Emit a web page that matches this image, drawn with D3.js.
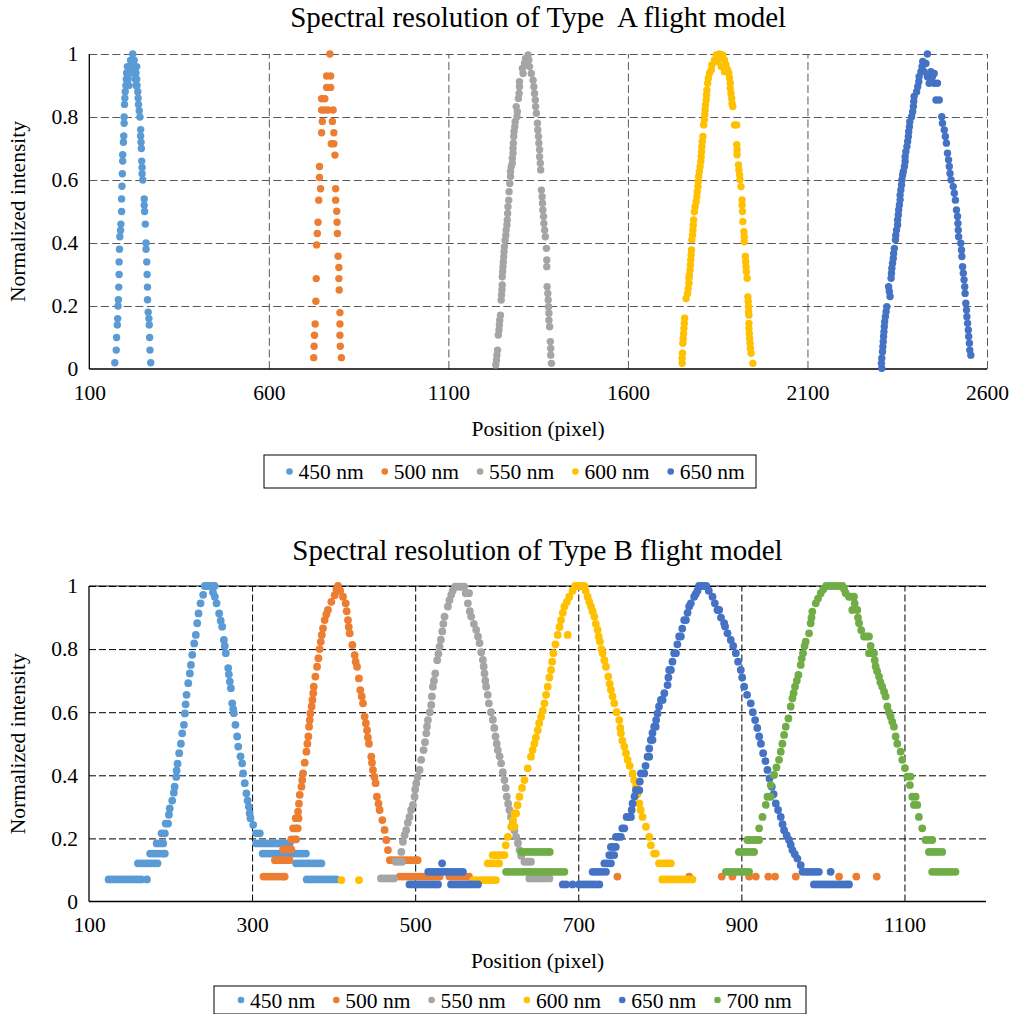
<!DOCTYPE html>
<html>
<head>
<meta charset="utf-8">
<script src="https://cdn.jsdelivr.net/npm/d3@7"></script>
<style>
  body { margin: 0; background: #fff; }
  text { font-family: "Liberation Serif", "Times New Roman", serif; fill: #000; }
</style>
</head>
<body>
<svg id="chart" width="1011" height="1014"></svg>
<script>
// ---------- shared labels ----------
const yTicks = [0, 0.2, 0.4, 0.6, 0.8, 1];
const xTicksA = [100, 600, 1100, 1600, 2100, 2600];
const xTicksB = [100, 300, 500, 700, 900, 1100];
const namesA = ["450 nm", "500 nm", "550 nm", "600 nm", "650 nm"];
const namesB = ["450 nm", "500 nm", "550 nm", "600 nm", "650 nm", "700 nm"];
const colors = ["#5B9BD5", "#ED7D31", "#A5A5A5", "#FFC000", "#4472C4", "#70AD47"];

// ---------- Type A: [position, normalized intensity] ----------
const a450 = [
  [171,0.02],[175,0.06],[176,0.10],[178,0.14],[179,0.16],[180,0.20],[181,0.22],[182,0.26],[183,0.30],[183,0.34],
  [184,0.38],[185,0.42],[187,0.44],[188,0.46],[190,0.50],[190,0.54],[191,0.58],[192,0.62],[193,0.66],[193,0.68],
  [195,0.72],[196,0.74],[197,0.78],[197,0.80],[198,0.84],[199,0.86],[200,0.88],[202,0.90],[203,0.92],[204,0.94],[206,0.96],
  [213,0.96],[222,0.96],[232,0.96],[213,0.94],[222,0.94],[208,0.92],[228,0.92],[210,0.90],[230,0.90],[215,0.98],[225,0.98],[221,1.0],
  [227,0.96],[230,0.94],[232,0.92],[233,0.90],[235,0.88],[236,0.86],[237,0.84],[239,0.82],[241,0.80],[243,0.76],
  [243,0.74],[244,0.72],[245,0.70],[246,0.66],[247,0.64],[247,0.62],[249,0.60],[253,0.54],[253,0.52],[254,0.50],
  [256,0.46],[258,0.40],[258,0.38],[260,0.34],[261,0.30],[262,0.26],[262,0.22],[264,0.18],[266,0.16],[267,0.14],
  [268,0.10],[269,0.06],[271,0.02]
];
const a500 = [
  [725,0.036],[802,0.036],[726,0.072],[799,0.072],[727,0.107],[798,0.107],[729,0.143],[798,0.143],[798,0.179],
  [731,0.215],[796,0.251],[732,0.287],[795,0.287],[795,0.322],[793,0.358],[733,0.394],[735,0.430],[791,0.430],
  [737,0.466],[790,0.466],[789,0.501],[739,0.536],[786,0.536],[744,0.572],[786,0.572],[741,0.608],[741,0.643],
  [784,0.679],[774,0.715],[781,0.715],[747,0.750],[781,0.750],[749,0.786],[777,0.786],[747,0.822],[756,0.822],
  [765,0.822],[779,0.822],[747,0.858],[756,0.858],[761,0.894],[772,0.894],[761,0.930],[772,0.930],[770,1.0]
];
const a550 = [
  [1232,0.013],[1234,0.028],[1235,0.044],[1237,0.060],[1239,0.108],[1241,0.124],[1242,0.140],[1243,0.155],[1245,0.171],
  [1247,0.219],[1248,0.235],[1249,0.251],[1250,0.267],[1250,0.293],[1251,0.309],[1252,0.325],[1253,0.340],[1254,0.356],
  [1255,0.372],[1256,0.388],[1258,0.409],[1260,0.425],[1261,0.441],[1263,0.457],[1264,0.473],[1265,0.494],[1266,0.515],
  [1268,0.536],[1269,0.563],[1271,0.589],[1273,0.611],[1273,0.627],[1275,0.643],[1278,0.653],[1278,0.669],[1280,0.685],
  [1280,0.701],[1281,0.717],[1282,0.738],[1283,0.754],[1285,0.769],[1286,0.785],[1291,0.801],[1292,0.817],[1289,0.833],
  [1295,0.859],[1297,0.875],[1298,0.896],[1298,0.912],[1308,0.938],[1306,0.954],[1312,0.970],[1315,0.986],[1322,0.997],
  [1324,0.981],[1326,0.960],[1331,0.938],[1336,0.917],[1338,0.896],[1340,0.875],[1342,0.854],[1343,0.833],[1345,0.812],
  [1348,0.780],[1349,0.759],[1351,0.738],[1352,0.717],[1354,0.696],[1354,0.674],[1356,0.653],[1357,0.632],
  [1359,0.568],[1361,0.547],[1362,0.526],[1363,0.505],[1365,0.484],[1366,0.462],[1368,0.441],[1370,0.420],
  [1373,0.383],[1374,0.346],[1374,0.325],[1375,0.261],[1377,0.240],[1378,0.219],[1379,0.198],[1380,0.177],[1380,0.155],
  [1382,0.134],[1384,0.087],[1385,0.065],[1385,0.044],[1387,0.018]
];
const a600 = [
  [1751,0.018],[1751,0.034],[1752,0.050],[1753,0.082],[1754,0.097],[1755,0.113],[1756,0.129],[1757,0.145],[1758,0.161],
  [1762,0.224],[1766,0.240],[1768,0.256],[1770,0.272],[1770,0.288],[1771,0.298],[1773,0.314],[1774,0.330],[1775,0.346],
  [1776,0.362],[1777,0.378],[1778,0.410],[1780,0.425],[1781,0.441],[1782,0.457],[1783,0.473],[1785,0.499],[1787,0.515],
  [1790,0.531],[1792,0.547],[1793,0.563],[1795,0.579],[1796,0.595],[1797,0.611],[1799,0.627],[1801,0.643],[1803,0.659],
  [1804,0.674],[1805,0.690],[1806,0.706],[1807,0.722],[1809,0.738],[1811,0.775],[1813,0.791],[1814,0.807],[1815,0.822],
  [1816,0.838],[1818,0.854],[1819,0.870],[1820,0.886],[1822,0.907],[1824,0.923],[1827,0.939],[1832,0.949],[1834,0.965],
  [1841,0.981],[1846,0.997],[1855,1.0],[1864,0.997],[1869,0.981],[1873,0.965],[1878,0.949],[1850,0.992],[1860,0.992],
  [1850,0.976],[1860,0.960],[1869,0.944],
  [1881,0.939],[1883,0.923],[1885,0.907],[1885,0.891],[1887,0.875],[1889,0.859],[1890,0.843],[1892,0.833],
  [1897,0.775],[1903,0.775],[1903,0.712],[1904,0.696],[1904,0.680],[1908,0.648],[1909,0.632],[1911,0.616],[1912,0.601],
  [1915,0.579],[1918,0.537],[1918,0.521],[1919,0.500],[1920,0.468],[1923,0.436],[1924,0.420],[1924,0.404],[1927,0.357],
  [1928,0.341],[1929,0.325],[1930,0.309],[1932,0.288],[1934,0.229],[1935,0.214],[1936,0.198],[1936,0.182],[1937,0.171],
  [1937,0.145],[1937,0.129],[1938,0.113],[1939,0.097],[1940,0.082],[1941,0.066],[1943,0.050],[1948,0.018]
];
const a650 = [
  [2307,0.002],[2306,0.018],[2307,0.034],[2309,0.055],[2310,0.071],[2311,0.087],[2312,0.103],[2313,0.118],[2314,0.134],
  [2315,0.150],[2317,0.166],[2319,0.182],[2321,0.198],[2330,0.230],[2328,0.246],[2326,0.261],[2333,0.288],[2334,0.304],
  [2335,0.320],[2337,0.336],[2339,0.351],[2340,0.367],[2342,0.383],[2345,0.410],[2346,0.425],[2348,0.441],[2351,0.457],
  [2351,0.473],[2353,0.489],[2354,0.505],[2356,0.521],[2358,0.537],[2358,0.552],[2360,0.568],[2362,0.584],[2363,0.600],
  [2365,0.616],[2367,0.627],[2370,0.643],[2372,0.659],[2372,0.674],[2374,0.690],[2377,0.706],[2379,0.722],[2381,0.738],
  [2382,0.754],[2384,0.769],[2385,0.785],[2390,0.801],[2393,0.817],[2395,0.833],[2396,0.849],[2397,0.865],[2404,0.880],
  [2407,0.896],[2410,0.912],[2411,0.928],[2416,0.944],[2419,0.960],[2421,0.976],[2434,1.0],[2430,0.970],[2425,0.944],
  [2444,0.944],[2434,0.928],[2448,0.928],[2439,0.907],[2453,0.907],[2462,0.907],[2453,0.938],
  [2458,0.854],[2467,0.854],[2474,0.801],[2476,0.780],[2481,0.759],[2484,0.738],[2487,0.717],[2490,0.685],[2493,0.664],
  [2495,0.643],[2497,0.621],[2500,0.600],[2506,0.579],[2509,0.558],[2512,0.536],[2515,0.505],[2518,0.484],[2519,0.462],
  [2520,0.441],[2521,0.420],[2527,0.399],[2529,0.378],[2530,0.357],[2532,0.325],[2534,0.304],[2536,0.283],[2538,0.261],
  [2539,0.240],[2541,0.209],[2543,0.187],[2544,0.166],[2546,0.145],[2548,0.124],[2549,0.103],[2551,0.082],[2552,0.060],
  [2555,0.044]
];

// ---------- Type B: [position, normalized intensity] ----------
const b450 = [
  [124,0.070],[128,0.070],[132,0.070],[136,0.070],[140,0.070],[144,0.070],[148,0.070],[152,0.070],[156,0.070],[160,0.070],[164,0.070],[171,0.070],
  [160,0.121],[164,0.121],[168,0.121],[172,0.121],[176,0.121],[180,0.121],[184,0.121],
  [175,0.152],[179,0.152],[183,0.152],[187,0.152],[191,0.152],[193,0.152],
  [183,0.184],[187,0.184],[191,0.184],[189,0.216],[193,0.216],[194,0.247],[197,0.247],[198,0.275],[199,0.295],[202,0.320],
  [204,0.345],[205,0.364],[207,0.395],[207.5,0.415],[208.6,0.437],[210.6,0.470],[212.7,0.500],[214.3,0.533],[216.4,0.560],
  [217.6,0.596],[218.5,0.625],[219.6,0.655],[221.7,0.692],[223.7,0.723],[225,0.750],[226.6,0.782],[229,0.818],[231,0.845],
  [232.7,0.882],[234.3,0.913],[236.8,0.945],[240,0.972],[242,1.0],[245,1.0],[248,1.0],[251,1.0],[254,1.0],
  [252,0.980],[254.3,0.966],[256.4,0.945],[259.6,0.913],[261.5,0.890],[263.3,0.871],[265.4,0.829],[266.5,0.810],
  [267.8,0.787],[270.7,0.740],[271.5,0.720],[272.7,0.697],[274,0.676],[275.6,0.628],[276.8,0.610],[277.6,0.597],
  [279.6,0.560],[281.7,0.523],[283,0.491],[285.8,0.460],[287.8,0.438],[289,0.406],[291,0.375],[293,0.343],[294.5,0.320],
  [296,0.301],[297,0.280],[298,0.264],[301.3,0.243],[305,0.216],[309.4,0.216],
  [305,0.184],[309,0.184],[313,0.184],[317,0.184],[321,0.184],[325,0.184],[329,0.184],[333,0.184],[337,0.184],[341,0.184],[346,0.184],
  [313,0.152],[317,0.152],[321,0.152],[325,0.152],[329,0.152],[333,0.152],[337,0.152],[341,0.152],[345,0.152],[349,0.152],
  [353,0.152],[357,0.152],[361,0.152],[366,0.152],
  [354,0.121],[358,0.121],[362,0.121],[366,0.121],[370,0.121],[374,0.121],[378,0.121],[382,0.121],[385,0.121],
  [367,0.070],[371,0.070],[375,0.070],[379,0.070],[383,0.070],[387,0.070],[391,0.070],[395,0.070],[399,0.070],[403,0.070]
];
const b500 = [
  [314,0.079],[318,0.079],[322,0.079],[326,0.079],[330,0.079],[334,0.079],[338,0.079],[340,0.079],
  [328,0.131],[332,0.131],[336,0.131],[340,0.131],[344,0.131],[346,0.131],
  [338,0.165],[342,0.165],[346,0.165],[348,0.165],[348,0.197],[352,0.197],[354,0.197],
  [350.3,0.232],[354,0.232],[356,0.232],[353.5,0.264],[357,0.264],[356.4,0.285],[357.5,0.310],[358.4,0.338],[360.5,0.364],
  [361.5,0.385],[362.5,0.406],[364.5,0.440],[366.6,0.475],[367.8,0.500],[369,0.523],[369.9,0.554],[370.7,0.575],
  [371.5,0.596],[373,0.618],[374,0.639],[375,0.660],[375.6,0.681],[377.6,0.713],[379.7,0.744],[381.3,0.771],[382.8,0.800],
  [384.2,0.823],[385.5,0.845],[387,0.866],[389,0.892],[391,0.910],[393,0.924],[397.2,0.950],[401.3,0.971],[403.5,0.990],
  [405.4,1.0],[408,0.985],[411.5,0.966],[414.8,0.945],[416,0.920],[417.6,0.892],[418.5,0.870],[419.7,0.850],[423,0.813],
  [425.8,0.781],[427,0.760],[428.7,0.744],[431,0.707],[432.7,0.670],[434.5,0.650],[436,0.628],[438,0.586],[439.5,0.565],
  [441,0.543],[442,0.520],[443.3,0.500],[446.2,0.459],[447,0.440],[448.2,0.417],[450,0.395],[451.5,0.375],[453.1,0.332],
  [455,0.310],[456.4,0.290],[459.7,0.258],[462.5,0.227],[464.6,0.195],[466.6,0.163],
  [469,0.131],[473,0.131],[477,0.131],[481,0.131],[485,0.131],[489,0.131],[493,0.131],[497,0.131],[501,0.131],[503,0.131],
  [481,0.079],[485,0.079],[489,0.079],[493,0.079],[497,0.079],[501,0.079],[505,0.079],[509,0.079],[513,0.079],[517,0.079],
  [521,0.079],[525,0.079],[530,0.079],[542,0.079],[546,0.079],[550,0.079],[554,0.079],[558,0.079],[562,0.079],[566,0.079],
  [748,0.079],[836,0.079],[876,0.079],[889,0.079],[909.5,0.079],[917.7,0.079],[933,0.079],[941.3,0.079],[966.7,0.079],
  [1019.8,0.079],[1041,0.079],[1066,0.079]
];
const b550 = [
  [458,0.073],[462,0.073],[466,0.073],[470,0.073],[474,0.073],[476,0.126],[480,0.126],[484,0.126],
  [483,0.157],[485,0.189],[487,0.210],[489,0.226],[491,0.250],[493,0.268],[495,0.290],[497.2,0.306],[499.3,0.332],
  [500,0.355],[501.3,0.374],[503,0.395],[505.4,0.417],[507.4,0.449],[510.3,0.480],[512,0.505],[513.6,0.533],[514.5,0.555],
  [515.6,0.575],[518,0.600],[519.7,0.623],[520.5,0.650],[521.7,0.681],[523,0.700],[524.6,0.723],[527,0.765],[528.5,0.785],
  [529.9,0.808],[531.5,0.830],[533.2,0.856],[534.5,0.880],[536,0.903],[540.1,0.935],[542,0.955],[544.2,0.972],[546,0.985],
  [549,0.998],[552,0.998],[555,0.998],[558,0.998],[560,0.998],
  [562,0.977],[566,0.977],[564.6,0.945],[567,0.920],[568.7,0.903],[572,0.880],[574.8,0.861],[577,0.840],[578.9,0.819],
  [581,0.790],[583,0.766],[584,0.745],[585,0.723],[586,0.700],[587,0.681],[589,0.655],[590.3,0.628],[593,0.600],
  [595.2,0.576],[597,0.550],[598.5,0.523],[600,0.500],[601.3,0.480],[603.5,0.460],[605.4,0.438],[607.5,0.410],[609.5,0.385],
  [611,0.360],[612.3,0.332],[614,0.310],[615.6,0.290],[617.5,0.268],[619.7,0.247],[621.7,0.225],[623.8,0.205],[626,0.185],
  [627.9,0.163],[630,0.145],[634,0.126],[638,0.126],[642,0.126],
  [640,0.073],[644,0.073],[648,0.073],[652,0.073],[656,0.073],[660,0.073],[664.6,0.073]
];
const b600 = [
  [409.5,0.068],[431.1,0.068],
  [571,0.068],[575,0.068],[579,0.068],[583,0.068],[587,0.068],[591,0.068],[595,0.068],[599,0.068],
  [589,0.121],[593,0.121],[597,0.121],[601,0.121],[603,0.121],
  [595,0.147],[599,0.147],[603,0.147],[607,0.147],[609.5,0.147],[611,0.178],
  [613.6,0.205],[617.7,0.237],[621.7,0.237],[620,0.258],[621.7,0.279],[623.8,0.279],[625.5,0.305],[627.9,0.332],[631,0.360],
  [634,0.385],[638,0.422],[642,0.459],[644,0.480],[646.2,0.500],[648,0.520],[650.3,0.543],[652,0.565],[654.4,0.585],
  [656.5,0.605],[658.5,0.628],[660.5,0.655],[662.5,0.681],[664.5,0.710],[666.6,0.734],[668,0.760],[669.5,0.787],[672,0.815],
  [674.8,0.845],[677,0.870],[678.9,0.892],[681,0.915],[683,0.935],[686,0.950],[689,0.966],[687,0.845],[693,0.985],
  [696,1.0],[699,1.0],[702,1.0],[705,1.0],[707.4,1.0],
  [709,0.985],[711.5,0.966],[713.5,0.950],[715.6,0.935],[717.5,0.920],[719.7,0.903],[721.5,0.880],[723.7,0.861],[725,0.840],
  [726.6,0.824],[728.5,0.800],[729.9,0.787],[732,0.765],[734,0.744],[736.8,0.713],[738.5,0.690],[740,0.671],[742,0.650],
  [744.1,0.628],[747,0.600],[750.3,0.575],[751.5,0.550],[752.3,0.533],[754,0.510],[756.4,0.491],[758.5,0.470],[760.5,0.449],
  [763,0.430],[766.6,0.406],[768.5,0.385],[770.7,0.364],[772.5,0.340],[774.8,0.311],[776.5,0.290],[778.8,0.268],[783,0.237],
  [787,0.205],[789,0.178],[793,0.152],[795.2,0.152],
  [799,0.121],[803,0.121],[807,0.121],[811,0.121],[813.5,0.121],
  [803,0.070],[807,0.070],[811,0.070],[815,0.070],[819,0.070],[823,0.070],[827,0.070],[831,0.070],[835,0.070],[840,0.070]
];
const b650 = [
  [493,0.054],[497,0.054],[501,0.054],[505,0.054],[509,0.054],[513,0.054],[517,0.054],[521,0.054],[525,0.054],[528,0.054],
  [544,0.054],[548,0.054],[552,0.054],[556,0.054],[560,0.054],[564,0.054],[568,0.054],[572,0.054],[577,0.054],
  [516,0.094],[520,0.094],[524,0.094],[528,0.094],[532,0.094],[536,0.094],[540,0.094],[544,0.094],[548,0.094],[552,0.094],
  [556,0.094],[558.5,0.094],[533,0.121],
  [681,0.054],[685,0.054],[693,0.054],[701,0.054],[705,0.054],[709,0.054],[713,0.054],[717,0.054],[721,0.054],[725.8,0.054],
  [717.6,0.094],[721,0.094],[725,0.094],[729,0.094],[734,0.094],[732,0.121],[736,0.121],[740,0.121],
  [738,0.147],[741,0.147],[744,0.147],[740,0.173],[743,0.173],[746,0.173],[746.2,0.205],[749,0.205],[752.3,0.205],
  [754,0.232],[756.4,0.232],[759.3,0.268],[762,0.268],[764.6,0.268],[765.5,0.290],[766.6,0.311],[769,0.333],[770.7,0.353],
  [774.8,0.353],[775.5,0.380],[776.8,0.406],[780.9,0.406],[782.5,0.430],[785,0.459],[787,0.459],[787,0.485],[789,0.512],
  [791,0.512],[791,0.534],[793.1,0.554],[795,0.554],[795.5,0.575],[797.2,0.596],[799,0.618],[801.3,0.639],[803.4,0.639],
  [805.5,0.660],[809.5,0.686],[810.5,0.710],[811.5,0.734],[813.6,0.734],[815.5,0.760],[817.6,0.787],[819.7,0.787],
  [821.5,0.815],[823.7,0.840],[825.8,0.840],[827.5,0.865],[829.9,0.892],[832,0.892],[834,0.915],[836,0.935],[838,0.945],
  [842.1,0.966],[844,0.975],[846.2,0.985],[848,1.0],[851,1.0],[854,1.0],[857,1.0],
  [860,0.985],[864.6,0.966],[867.5,0.945],[870.7,0.924],[872.8,0.924],[875,0.900],[878.9,0.882],[880,0.872],[883,0.850],
  [887,0.829],[890,0.810],[893.2,0.787],[896,0.760],[899.3,0.734],[901,0.710],[903.4,0.681],[907,0.655],[911.5,0.628],
  [914,0.600],[916.9,0.575],[919.5,0.550],[921.8,0.523],[924,0.500],[926.7,0.470],[929.5,0.445],[932,0.417],[934.5,0.390],
  [937.3,0.364],[939.5,0.340],[942.2,0.311],[945,0.290],[948.3,0.268],[950.5,0.245],[952.4,0.226],[955.5,0.210],
  [958.5,0.195],[960.5,0.180],[962.6,0.163],[965.5,0.150],[968.7,0.136],[972.8,0.115],
  [975,0.094],[979,0.094],[983,0.094],[987,0.094],[991,0.094],[995,0.094],[1009.5,0.094],
  [989,0.054],[993,0.054],[997,0.054],[1001,0.054],[1005,0.054],[1009,0.054],[1013,0.054],[1017,0.054],[1021,0.054],
  [1025,0.054],[1029,0.054],[1032,0.054]
];
const b700 = [
  [630,0.157],[634,0.157],[638,0.157],[642,0.157],[646,0.157],[650,0.157],[654,0.157],[658,0.157],[662,0.157],[665,0.157],
  [611.5,0.094],[615,0.094],[619,0.094],[623,0.094],[627,0.094],[631,0.094],[635,0.094],[639,0.094],[643,0.094],[647,0.094],
  [651,0.094],[655,0.094],[659,0.094],[663,0.094],[667,0.094],[671,0.094],[675,0.094],[679,0.094],[683,0.094],
  [881,0.094],[885,0.094],[889,0.094],[893,0.094],[897,0.094],[901,0.094],[905,0.094],[909.5,0.094],
  [897,0.157],[901,0.157],[905,0.157],[909,0.157],[913,0.157],[915.6,0.157],
  [907.5,0.195],[911,0.195],[915,0.195],[919,0.195],[921.8,0.195],
  [921.8,0.232],[925.9,0.268],[929.9,0.306],[932,0.332],[936,0.332],[936,0.369],[940.1,0.401],[943,0.425],[946.2,0.449],
  [948.3,0.475],[950.3,0.500],[952.4,0.528],[954.4,0.554],[957.7,0.580],[960.5,0.618],[962.6,0.644],[964,0.660],
  [965.8,0.681],[968,0.700],[969.9,0.718],[972.8,0.750],[974,0.770],[975.6,0.787],[977.5,0.810],[978.9,0.824],[983,0.850],
  [985,0.882],[986,0.900],[987,0.919],[991.2,0.945],[994,0.960],[997.3,0.977],[1000.5,0.990],
  [1004,1.0],[1008,1.0],[1012,1.0],[1016,1.0],[1020,1.0],[1024,1.0],
  [1026,0.990],[1028,0.977],[1032,0.966],[1035,0.966],[1038.1,0.966],[1039,0.945],[1036,0.924],[1042.2,0.924],[1043,0.900],
  [1044.3,0.882],[1047,0.860],[1050.4,0.840],[1053.5,0.840],[1056.5,0.840],[1058.5,0.810],[1056.5,0.787],[1059.5,0.787],
  [1062.6,0.787],[1063.5,0.765],[1064.7,0.745],[1066.5,0.730],[1068.8,0.713],[1070.5,0.695],[1072.8,0.681],[1075,0.665],
  [1076.9,0.650],[1079,0.618],[1081,0.600],[1083,0.586],[1085,0.570],[1087.1,0.554],[1089.2,0.523],[1091.2,0.500],
  [1095.3,0.475],[1097.3,0.449],[1100.6,0.423],[1103.5,0.396],[1107.5,0.396],[1106.7,0.369],[1109.6,0.332],[1113.7,0.332],
  [1111.6,0.306],[1115.7,0.306],[1117.7,0.268],[1121.8,0.232],[1125.9,0.195],[1130,0.195],[1134,0.195],
  [1130,0.157],[1134,0.157],[1138,0.157],[1142,0.157],[1146.3,0.157],
  [1134,0.094],[1138,0.094],[1142,0.094],[1146,0.094],[1150,0.094],[1154,0.094],[1158,0.094],[1162.6,0.094]
];

const seriesA = [a450, a500, a550, a600, a650];
const seriesB = [b450, b500, b550, b600, b650, b700];

const svg = d3.select("#chart");
const fmt = d => (d === 0 || d === 1) ? String(d) : d3.format(".1f")(d);
const FONT = "21.5px";

function drawPanel(cfg) {
  const g = svg.append("g");
  const x = d3.scaleLinear().domain(cfg.xDomain).range([cfg.left, cfg.right]);
  const y = d3.scaleLinear().domain([0, 1]).range([cfg.bottom, cfg.top]);
  const w = cfg.right - cfg.left, h = cfg.bottom - cfg.top;

  // horizontal gridlines
  g.append("g").attr("transform", `translate(${cfg.left},0)`)
    .call(d3.axisLeft(y).tickValues(yTicks.filter(v => v > 0)).tickSize(-w).tickFormat(""))
    .call(a => a.select(".domain").remove())
    .selectAll("line").attr("stroke", cfg.gridColor).attr("stroke-width", 1).attr("stroke-dasharray", cfg.dash);

  // vertical gridlines
  g.append("g").attr("transform", `translate(0,${cfg.bottom})`)
    .call(d3.axisBottom(x).tickValues(cfg.xGrid).tickSize(-h).tickFormat(""))
    .call(a => a.select(".domain").remove())
    .selectAll("line").attr("stroke", cfg.gridColor).attr("stroke-width", 1).attr("stroke-dasharray", cfg.dash);

  if (cfg.frameTop) {
    g.append("line").attr("x1", cfg.left).attr("x2", cfg.right).attr("y1", cfg.top).attr("y2", cfg.top)
      .attr("stroke", "#000").attr("stroke-width", 1);
  }

  // axis lines
  g.append("line").attr("x1", cfg.left).attr("x2", cfg.left).attr("y1", cfg.top).attr("y2", cfg.bottom)
    .attr("stroke", "#000").attr("stroke-width", 1.3);
  g.append("line").attr("x1", cfg.left).attr("x2", cfg.right).attr("y1", cfg.bottom).attr("y2", cfg.bottom)
    .attr("stroke", "#000").attr("stroke-width", 1.3);

  // data markers
  cfg.series.forEach((s, i) => {
    g.append("g").selectAll("circle").data(s).join("circle")
      .attr("cx", d => x(d[0])).attr("cy", d => y(d[1])).attr("r", cfg.r)
      .attr("fill", colors[i]);
  });

  // tick labels
  const ya = g.append("g").attr("transform", `translate(${cfg.left},0)`)
    .call(d3.axisLeft(y).tickValues(yTicks).tickSize(0).tickPadding(11).tickFormat(fmt));
  ya.select(".domain").remove();
  ya.selectAll("text").style("font-family", "Liberation Serif").style("font-size", FONT).attr("fill", "#000");

  const xa = g.append("g").attr("transform", `translate(0,${cfg.bottom})`)
    .call(d3.axisBottom(x).tickValues(cfg.xTicks).tickSize(0).tickPadding(cfg.xPad).tickFormat(d3.format("d")));
  xa.select(".domain").remove();
  xa.selectAll("text").style("font-family", "Liberation Serif").style("font-size", FONT).attr("fill", "#000");

  // titles
  const cx = (cfg.left + cfg.right) / 2;
  g.append("text").attr("x", cx).attr("y", cfg.titleY).attr("text-anchor", "middle")
    .style("font-size", "29px").style("white-space", "pre").text(cfg.title);
  g.append("text").attr("x", cx).attr("y", cfg.xTitleY).attr("text-anchor", "middle")
    .style("font-size", FONT).text("Position (pixel)");
  g.append("text").attr("transform", `translate(25,${(cfg.top + cfg.bottom) / 2}) rotate(-90)`)
    .attr("text-anchor", "middle").style("font-size", FONT).text("Normalized intensity");

  // legend
  const L = cfg.legend;
  const lg = g.append("g");
  lg.append("rect").attr("x", L.x).attr("y", L.y).attr("width", L.w).attr("height", L.h)
    .attr("fill", "#fff").attr("stroke", "#000").attr("stroke-width", 1);
  cfg.names.forEach((n, i) => {
    const ix = L.x + L.first + i * L.step;
    lg.append("circle").attr("cx", ix).attr("cy", L.y + L.h / 2).attr("r", 3.3).attr("fill", colors[i]);
    lg.append("text").attr("x", ix + 9).attr("y", L.y + L.h / 2 + 7.5).style("font-size", FONT).text(n);
  });
}

drawPanel({
  title: "Spectral resolution of Type  A flight model",
  xDomain: [100, 2600], xTicks: xTicksA, xGrid: [600, 1100, 1600, 2100, 2600],
  left: 89.3, right: 987, top: 54, bottom: 369,
  gridColor: "#595959", dash: "8,3.5", frameTop: false, r: 3.7, xPad: 16,
  titleY: 27, xTitleY: 436,
  series: seriesA, names: namesA,
  legend: { x: 264, y: 455, w: 492, h: 33, first: 25.5, step: 95.3 }
});

drawPanel({
  title: "Spectral resolution of Type B flight model",
  xDomain: [100, 1200], xTicks: xTicksB, xGrid: [300, 500, 700, 900, 1100],
  left: 89, right: 986, top: 586, bottom: 901.5,
  gridColor: "#000", dash: "7,3", frameTop: true, r: 3.9, xPad: 15.5,
  titleY: 560, xTitleY: 968,
  series: seriesB, names: namesB,
  legend: { x: 214, y: 986, w: 592, h: 28, first: 27, step: 95.3 }
});
</script>
</body>
</html>
